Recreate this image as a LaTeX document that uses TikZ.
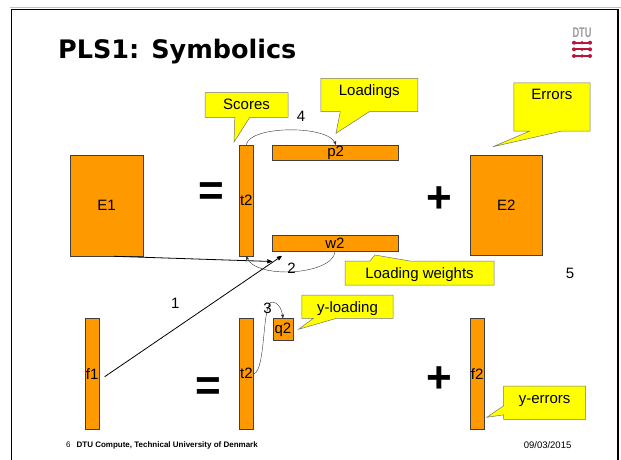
\documentclass[tikz,border=0pt]{standalone}
\usepackage{fontspec}
\setmainfont{Liberation Sans}
\newfontfamily\titlefont{DejaVu Sans}
\usetikzlibrary{arrows,shapes.callouts}
\definecolor{dtuorange}{HTML}{FF9900}
\definecolor{noteyellow}{HTML}{FFFF00}
\definecolor{dtured}{HTML}{B8143C}
\definecolor{dtugrey}{HTML}{9A9A9A}

\begin{document}
\begin{tikzpicture}[x=1pt, y=-1pt, font=\fontsize{15}{17}\selectfont,
  block/.style={draw=black!75, line width=0.6pt, fill=dtuorange, inner sep=0pt},
  note/.style={rectangle callout, draw=black!55, line width=0.5pt, fill=noteyellow, inner sep=0pt, text height=17pt},
  sign/.style={font=\fontsize{44}{44}\selectfont\bfseries, inner sep=0pt},
  steplabel/.style={inner sep=0pt}]
\useasboundingbox (0,0) rectangle (621,459);
\draw[dtugrey!60, line width=0.6pt] (10,7) -- (621,7);
\draw[line width=1.6pt] (11.5,470) -- (11.5,9.5) -- (618,9.5) -- (618,470);

\node[anchor=base west, inner sep=0pt, font=\titlefont\bfseries\fontsize{25.5}{25.5}\selectfont] (title) at (58,58.3) {PLS1: Symbolics};

\node[inner sep=0pt, text=dtugrey, font=\bfseries\fontsize{14}{14}\selectfont] (dtu) at (582,33) {\scalebox{0.66}[1]{DTU}};
\foreach \y in {42.7,49.3,56} {
  \draw[dtured, line width=2pt] (573,\y) -- (591,\y);
  \fill[dtured] (574,\y) circle (2pt) (582,\y) circle (1.8pt) (590,\y) circle (2pt);
}

\node[block, minimum width=73pt, minimum height=101pt] (E1) at (106.5,205.5) {E1};
\node[block, minimum width=14pt, minimum height=111pt] (t2a) at (246.3,200.5) {t2};
\node[block, minimum width=126pt, minimum height=15.7pt] (p2) at (335.7,152.9) {p2};
\node[block, minimum width=126pt, minimum height=16pt] (w2) at (335,243.3) {w2};
\node[block, minimum width=72.5pt, minimum height=100pt] (E2) at (506.3,205) {E2};
\node[block, minimum width=14.3pt, minimum height=111.3pt] (f1) at (92.2,373.7) {f1};
\node[block, minimum width=14.3pt, minimum height=111pt] (t2b) at (246.5,373.8) {t2};
\node[block, minimum width=20pt, minimum height=22.4pt] (q2) at (282.9,329.5) {q2};
\node[block, minimum width=14.3pt, minimum height=111.3pt] (f2) at (477.2,373.7) {f2};

\node[sign] (eqa) at (211.7,194) {=};
\node[sign] (plusa) at (439,200) {+};
\node[sign] (eqb) at (208.2,389) {=};
\node[sign] (plusb) at (439,379.5) {+};

\node[note, minimum width=83pt, text depth=7.6pt, callout absolute pointer={(234,142)}, callout pointer width=15pt] (scores) at (246.5,105) {Scores};
\node[note, minimum width=97pt, text depth=16.4pt, callout absolute pointer={(336,133.3)}, callout pointer width=29pt] (loadings) at (369.3,95) {Loadings};
\node[note, minimum width=76.3pt, text depth=31.3pt, callout absolute pointer={(493,146.7)}, callout pointer width=32pt] (errors) at (551.9,106.9) {Errors};
\node[note, minimum width=149pt, text depth=7pt, callout absolute pointer={(375,255)}, callout pointer width=40pt] (weights) at (419.5,273) {Loading weights};
\node[note, minimum width=91.4pt, text depth=6.3pt, callout absolute pointer={(298.6,329.3)}, callout pointer width=23pt] (yloading) at (347.5,306.7) {y-loading};
\node[note, minimum width=82.1pt, text depth=16.3pt, callout absolute pointer={(486.8,417.3)}, callout pointer width=9pt] (yerrors) at (544.6,402.7) {y-errors};

\coordinate (e1end) at (272,261.5);
\coordinate (f1end) at (281.7,256);
\draw[-stealth', line width=0.8pt] ([xshift=7.5pt]E1.south) -- (e1end);
\draw[-stealth', line width=0.8pt] ([shift={(5,3)}]f1.east) -- (f1end);
\draw[-stealth', black!80] (t2a.north) .. controls (250,125) and (330,125) .. (p2.north);
\draw[-stealth', black!80] (w2.south) .. controls (333,275) and (255,280) .. (t2a.south);
\draw[-stealth', black!80] (t2b.east) .. controls (266,370) and (262,302) .. (272,302) .. controls (278,302) and (282,309) .. (q2.north);

\node[steplabel] (one) at (175.4,303.3) {1};
\node[steplabel] (two) at (291.5,268) {2};
\node[steplabel] (three) at (267.5,308) {3};
\node[steplabel] (four) at (301,116) {4};
\node[steplabel] (five) at (570,273.3) {5};

\node[anchor=west, inner sep=0pt, font=\fontsize{8}{8}\selectfont] (pageno) at (66,445) {6};
\node[anchor=west, inner sep=0pt, font=\bfseries\fontsize{8}{8}\selectfont] (footer) at (76.4,445) {DTU Compute, Technical University of Denmark};
\node[anchor=west, inner sep=0pt, font=\fontsize{9.5}{9.5}\selectfont] (date) at (523.6,445) {09/03/2015};
\end{tikzpicture}
\end{document}
